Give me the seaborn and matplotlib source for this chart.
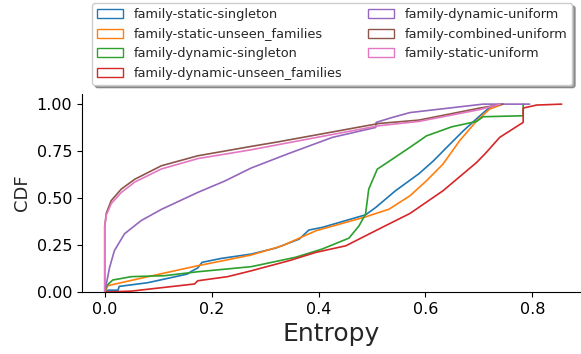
import matplotlib
matplotlib.use("Agg")
import matplotlib.pyplot as plt
from matplotlib.patches import Patch
import pandas as pd
import seaborn as sns

# Cumulative distribution of entropy per sampling strategy
series_names = [
    "family-static-singleton",
    "family-static-unseen_families",
    "family-dynamic-singleton",
    "family-dynamic-unseen_families",
    "family-dynamic-uniform",
    "family-combined-uniform",
    "family-static-uniform",
]

static_singleton_x = [0.0, 0.0, 0.006, 0.025, 0.027, 0.081, 0.155, 0.162, 0.174, 0.182, 0.218, 0.274,
                      0.320, 0.364, 0.382, 0.407, 0.488, 0.507, 0.544, 0.588, 0.615, 0.640, 0.671,
                      0.702, 0.720, 0.739]
static_singleton_y = [0.0, 0.0, 0.01, 0.01, 0.03, 0.05, 0.096, 0.11, 0.128, 0.158, 0.179, 0.202,
                      0.234, 0.282, 0.33, 0.344, 0.411, 0.45, 0.539, 0.63, 0.698, 0.77, 0.858,
                      0.938, 0.982, 1.0]

static_unseen_x = [0.0, 0.0, 0.006, 0.031, 0.081, 0.174, 0.274, 0.332, 0.395, 0.488, 0.532, 0.571,
                   0.602, 0.633, 0.664, 0.696, 0.720, 0.745]
static_unseen_y = [0.0, 0.0, 0.034, 0.05, 0.082, 0.14, 0.197, 0.246, 0.326, 0.40, 0.441, 0.512,
                   0.592, 0.681, 0.805, 0.911, 0.973, 1.0]

dynamic_singleton_x = [0.0, 0.0, 0.004, 0.015, 0.050, 0.112, 0.174, 0.274, 0.357, 0.407, 0.457,
                       0.476, 0.488, 0.494, 0.510, 0.538, 0.571, 0.602, 0.649, 0.696, 0.708,
                       0.783, 0.783]
dynamic_singleton_y = [0.0, 0.0, 0.035, 0.064, 0.082, 0.087, 0.108, 0.135, 0.185, 0.229, 0.287,
                       0.353, 0.415, 0.548, 0.654, 0.707, 0.77, 0.831, 0.879, 0.908, 0.933,
                       0.938, 1.0]

dynamic_unseen_x = [0.0, 0.0, 0.050, 0.112, 0.168, 0.174, 0.230, 0.274, 0.345, 0.395, 0.451, 0.519,
                    0.571, 0.633, 0.696, 0.714, 0.739, 0.783, 0.783, 0.808, 0.855]
dynamic_unseen_y = [0.0, 0.0, 0.005, 0.025, 0.043, 0.06, 0.082, 0.113, 0.167, 0.211, 0.246, 0.344,
                    0.418, 0.539, 0.69, 0.743, 0.823, 0.903, 0.979, 0.995, 1.0]

dynamic_uniform_x = [0.0, 0.0, 0.009, 0.018, 0.037, 0.068, 0.106, 0.174, 0.224, 0.274, 0.345, 0.426,
                     0.507, 0.508, 0.538, 0.571, 0.708, 0.795]
dynamic_uniform_y = [0.0, 0.0, 0.13, 0.22, 0.31, 0.38, 0.44, 0.53, 0.59, 0.66, 0.738, 0.823,
                     0.876, 0.903, 0.929, 0.955, 1.0, 1.0]

combined_uniform_x = [0.0, 0.0, 0.003, 0.012, 0.031, 0.056, 0.106, 0.174, 0.274, 0.326, 0.513,
                      0.588, 0.700, 0.745]
combined_uniform_y = [0.0, 0.35, 0.42, 0.486, 0.548, 0.60, 0.672, 0.725, 0.775, 0.80, 0.897,
                      0.915, 0.978, 1.0]

static_uniform_x = [0.0, 0.0, 0.003, 0.012, 0.031, 0.056, 0.106, 0.174, 0.274, 0.326, 0.513,
                    0.588, 0.700, 0.740]
static_uniform_y = [0.0, 0.35, 0.41, 0.47, 0.53, 0.585, 0.655, 0.71, 0.757, 0.785, 0.885,
                    0.908, 0.97, 1.0]

curves = [
    (static_singleton_x, static_singleton_y),
    (static_unseen_x, static_unseen_y),
    (dynamic_singleton_x, dynamic_singleton_y),
    (dynamic_unseen_x, dynamic_unseen_y),
    (dynamic_uniform_x, dynamic_uniform_y),
    (combined_uniform_x, combined_uniform_y),
    (static_uniform_x, static_uniform_y),
]

frames = []
for name, (xs, ys) in zip(series_names, curves):
    frames.append(pd.DataFrame({"Entropy": xs, "CDF": ys, "series": name}))
df = pd.concat(frames, ignore_index=True)

sns.set_style("ticks")
palette = sns.color_palette("tab10", len(series_names))

fig = plt.figure(figsize=(5.81, 3.54), dpi=100)
ax = fig.add_axes([0.141, 0.175, 0.857, 0.559])

sns.lineplot(data=df, x="Entropy", y="CDF", hue="series", hue_order=series_names,
             palette=palette, estimator=None, sort=False, units="series",
             linewidth=1.2, legend=False, ax=ax)

ax.set_xlim(-0.0427, 0.889)
ax.set_ylim(0, 1.053)
ax.set_xticks([0.0, 0.2, 0.4, 0.6, 0.8])
ax.set_yticks([0.0, 0.25, 0.5, 0.75, 1.0])
ax.set_yticklabels(["0.00", "0.25", "0.50", "0.75", "1.00"])
ax.tick_params(labelsize=11.5, colors="black")
ax.set_xlabel("Entropy", fontsize=18)
ax.set_ylabel("CDF", fontsize=13)
sns.despine(ax=ax)
for sp in ("left", "bottom"):
    ax.spines[sp].set_color("black")

handles = [Patch(facecolor="none", edgecolor=c, label=n) for n, c in zip(series_names, palette)]
ax.legend(handles=handles, ncol=2, fontsize=9.3, loc="upper center",
          bbox_to_anchor=(0.572, 0.991), bbox_transform=fig.transFigure,
          borderaxespad=0, shadow=True, frameon=True)

fig.savefig("out.png", dpi=100)
